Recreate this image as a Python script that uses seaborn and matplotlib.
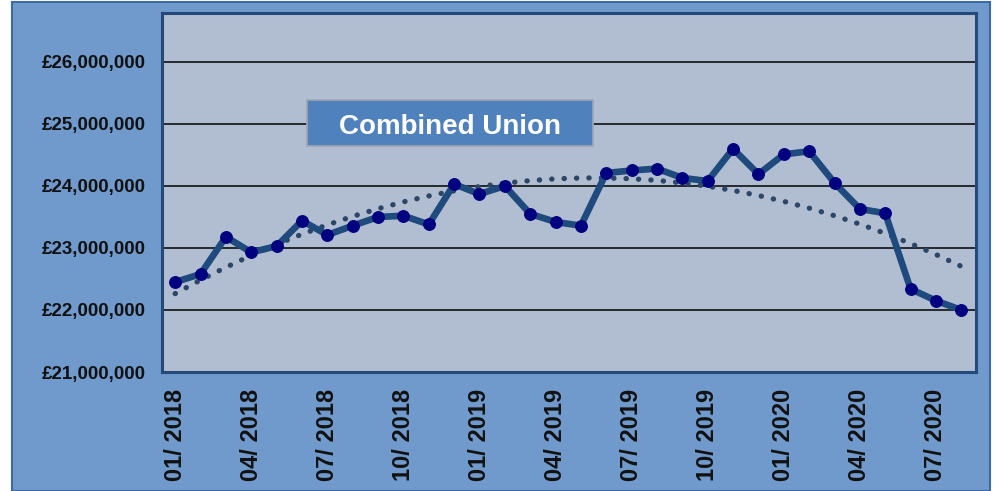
import numpy as np
import pandas as pd
import matplotlib.pyplot as plt
from matplotlib.patches import Rectangle
import seaborn as sns

# Monthly totals, Jan 2018 - Aug 2020 (in £)
months = pd.date_range("2018-01-01", "2020-08-01", freq="MS").strftime("%m/ %Y").tolist()
values_m = [22.45, 22.58, 23.18, 22.93, 23.03, 23.44, 23.21, 23.36, 23.50, 23.52, 23.38, 24.03,
            23.87, 24.00, 23.55, 23.42, 23.36, 24.21, 24.25, 24.28, 24.13, 24.08, 24.60, 24.19,
            24.51, 24.56, 24.05, 23.63, 23.56, 22.34, 22.15, 22.00]
values = [v * 1e6 for v in values_m]
tick_every = 3
y_ticks = [21e6, 22e6, 23e6, 24e6, 25e6, 26e6]

df = pd.DataFrame({"idx": range(len(months)), "month": months, "value": values})

# polynomial (order 2) trend line, like Excel's
coef = np.polyfit(df["idx"], df["value"], 2)
df["trend"] = np.polyval(coef, df["idx"])

sns.set_style("white")
plt.rcParams["font.family"] = ["Liberation Sans", "DejaVu Sans"]

fig = plt.figure(figsize=(9.94, 4.91), dpi=100)
fig.patch.set_facecolor("white")
fig.patches.append(Rectangle((12 / 994, 0), 978 / 994, 489 / 491, transform=fig.transFigure,
                             facecolor="#7099CC", edgecolor="#3B6BA6", linewidth=1.5, zorder=-10))

ax = fig.add_axes([162 / 994, 1 - 372 / 491, 814 / 994, 359 / 491])
ax.set_facecolor("#B1BED1")

sns.lineplot(data=df, x="idx", y="trend", ax=ax, color="#2B4666", linewidth=3.8,
             linestyle=(0, (0.05, 2.3)), dash_capstyle="round", zorder=3)
sns.lineplot(data=df, x="idx", y="value", ax=ax, color="#1F4A7E", linewidth=4.8,
             marker="o", markersize=8.5, markerfacecolor="#000080", markeredgecolor="#000080",
             zorder=4)

ax.set_xlim(-0.52, len(months) - 0.42)
ax.set_ylim(21e6, 26.79e6)
ax.set_yticks(y_ticks)
ax.set_yticklabels([f"£{v:,.0f}" for v in y_ticks], fontsize=13.5, fontweight="bold", color="#111111")
ax.set_xticks(df["idx"][::tick_every])
ax.set_xticklabels(df["month"][::tick_every], rotation=90, fontsize=17, fontweight="bold",
                   color="#111111")
ax.tick_params(axis="both", length=0)
ax.tick_params(axis="y", pad=12)
ax.tick_params(axis="x", pad=12)
ax.set_xlabel("")
ax.set_ylabel("")
ax.yaxis.grid(True, color="black", linewidth=1.1)
ax.set_axisbelow(True)
for s in ax.spines.values():
    s.set_color("#25497A")
    s.set_linewidth(2.2)

# title box
ax.add_patch(Rectangle((0.178, 0.6295), 0.351, 0.128, transform=ax.transAxes,
                       facecolor="#4F81BD", edgecolor="#A0A6B0", linewidth=1.2, zorder=2))
ax.text(0.3535, 0.683, "Combined Union", transform=ax.transAxes, ha="center", va="center",
        fontsize=20, fontweight="bold", color="white", zorder=5)

fig.savefig("out.png", dpi=100, facecolor=fig.get_facecolor())
